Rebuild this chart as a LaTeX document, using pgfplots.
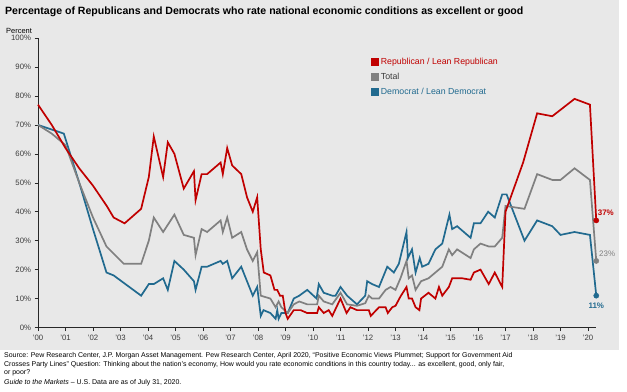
\documentclass[border=0pt]{standalone}
\usepackage{fontspec}
\setmainfont{Liberation Sans}
\usepackage{pgfplots}
\pgfplotsset{compat=1.18}
\usepackage{pgfplotstable}
\definecolor{bg}{RGB}{232,232,232}
\definecolor{rep}{RGB}{192,0,0}
\definecolor{tot}{RGB}{128,128,128}
\definecolor{dem}{RGB}{33,106,143}
\definecolor{axc}{RGB}{40,40,40}
\definecolor{txc}{RGB}{60,60,60}

\pgfplotstableread{
year val
2000.0 77
2000.5 70
2001.0 62
2001.5 55
2002.0 49
2002.5 42
2002.75 38
2003.15 36
2003.75 41
2004.03 52
2004.21 66
2004.55 52
2004.72 64
2004.96 60
2005.3 48
2005.67 54
2005.73 44
2005.95 53
2006.15 53
2006.64 57
2006.72 53
2006.88 62
2007.06 56
2007.39 53
2007.6 45
2007.81 40
2007.97 45
2008.1 27
2008.21 19
2008.45 18
2008.6 13
2008.7 13
2008.8 11
2008.9 11
2009.0 5
2009.08 3
2009.3 6
2009.55 6
2009.79 5
2010.15 5
2010.21 7
2010.39 5
2010.57 6
2010.7 4
2011.0 10
2011.22 5
2011.36 7
2011.6 6
2012.03 6
2012.1 4
2012.4 7
2012.64 7
2012.72 5
2012.88 7
2013.0 7.5
2013.18 10.7
2013.4 14
2013.48 10
2013.6 10
2013.73 7
2013.87 6
2013.93 10
2014.2 12
2014.45 10
2014.58 14
2014.7 11
2014.94 14
2015.06 17
2015.43 17
2015.73 16.5
2015.85 19
2016.09 20
2016.39 15
2016.61 19
2016.88 14
2017.0 40
2017.64 57
2018.15 74
2018.7 73
2019.51 79
2020.07 77
2020.3 37
}\rep

\pgfplotstableread{
year val
2000.0 70
2000.5 67
2001.0 63
2001.5 50
2002.0 38
2002.49 28
2003.12 22
2003.75 22
2004.03 30
2004.21 38
2004.55 33
2004.96 39
2005.3 32
2005.67 31
2005.73 25
2005.95 34
2006.15 33
2006.64 37
2006.72 33
2006.88 38
2007.06 31
2007.39 33
2007.6 27
2007.81 23
2007.97 26
2008.1 11
2008.45 10
2008.64 7
2008.75 9
2008.85 7
2009.08 5
2009.3 8
2009.5 9
2009.79 8
2010.15 8
2010.21 11
2010.39 9
2010.7 8
2011.0 12
2011.24 8
2011.6 7.5
2011.9 8.4
2012.03 11
2012.15 10
2012.4 10
2012.64 13
2012.82 14
2013.0 13
2013.18 17
2013.4 23
2013.48 17
2013.6 18
2013.73 13
2013.93 16
2014.2 17
2014.45 19
2014.7 21
2014.94 27
2015.06 25
2015.24 27
2015.73 24
2015.85 27
2016.09 29
2016.39 28
2016.61 28
2016.88 31
2017.0 42
2017.69 41
2018.15 53
2018.7 51
2019.0 51
2019.51 55
2020.07 51
2020.3 23
}\tot

\pgfplotstableread{
year val
2000.0 70
2000.94 67
2001.5 50
2002.0 34
2002.49 19
2002.75 18
2003.75 11
2004.03 15
2004.21 15
2004.55 17
2004.72 13
2004.96 23
2005.3 20
2005.67 16
2005.73 13
2005.95 21
2006.15 21
2006.64 23
2006.72 22
2006.88 23
2007.06 17
2007.39 21
2007.6 16
2007.81 11
2007.97 14
2008.1 4
2008.2 6
2008.45 5
2008.64 3
2008.7 6
2008.75 3
2008.85 5
2009.08 5
2009.3 10
2009.5 11
2009.79 13
2010.13 10
2010.21 15
2010.39 12
2010.7 11
2010.82 11
2011.0 14
2011.24 11
2011.36 10
2011.6 8
2011.9 11
2011.97 16
2012.15 15
2012.4 14
2012.7 21
2012.94 19
2013.12 22
2013.4 33
2013.45 24
2013.6 27
2013.73 19
2013.88 24
2013.97 21
2014.2 22
2014.45 27
2014.7 29
2014.96 39
2015.06 34
2015.24 35
2015.73 31
2015.85 36
2016.09 36
2016.37 40
2016.61 38
2016.88 46
2017.04 46
2017.69 30
2018.15 37
2018.7 35
2019.0 32
2019.51 33
2020.07 32
2020.3 11
}\dem

\pgfplotstableread{
year val
2020.3 37
}\repend
\pgfplotstableread{
year val
2020.3 23
}\totend
\pgfplotstableread{
year val
2020.3 11
}\demend

\begin{document}
\begin{tikzpicture}[x=1bp,y=1bp]
\useasboundingbox (0,0) rectangle (627,391);
\fill[bg] (0,41) rectangle (619,391);
\node[anchor=west,inner sep=0pt,font=\bfseries\fontsize{10.6}{12}\selectfont,text=black] at (5,379) {Percentage of Republicans and Democrats who rate national economic conditions as excellent or good};
\node[anchor=west,inner sep=0pt,font=\fontsize{7.5}{9}\selectfont,text=black] at (6,360) {Percent};
\begin{axis}[
  at={(38bp,63.5bp)}, anchor=south west,
  scale only axis, width=558.25bp, height=289.4bp,
  xmin=2000, xmax=2020.3, ymin=0, ymax=100,
  axis x line*=bottom, axis y line*=left,
  axis line style={axc, line width=0.9pt},
  tick style={axc, line width=0.6pt},
  tick align=outside, major tick length=3.5bp,
  xtick={2000,2001,...,2020},
  xticklabels={'00,'01,'02,'03,'04,'05,'06,'07,'08,'09,'10,'11,'12,'13,'14,'15,'16,'17,'18,'19,'20},
  ytick={0,10,...,100},
  yticklabel={\pgfmathprintnumber{\tick}\%},
  /pgf/number format/assume math mode=true,
  ticklabel style={font=\fontsize{7.8}{9}\selectfont, text=txc},
  xticklabel style={yshift=-1bp},
  clip=false,
  legend style={at={(rel axis cs:0.597,0.94)}, anchor=north west, draw=none, fill=none,
     font=\fontsize{8.8}{10}\selectfont, row sep=3.2bp, inner sep=0pt, cells={anchor=west}},
  legend cell align=left,
  legend image code/.code={\fill[#1] (0bp,-3.5bp) rectangle (7bp,3.5bp);},
]
\addplot[dem, line width=1.7bp, forget plot] table[x=year,y=val]{\dem};
\addplot[tot, line width=1.7bp, forget plot] table[x=year,y=val]{\tot};
\addplot[rep, line width=1.7bp, forget plot] table[x=year,y=val]{\rep};
\addplot[only marks, mark=*, mark size=2.6bp, rep, forget plot] table[x=year,y=val]{\repend};
\addplot[only marks, mark=*, mark size=2.6bp, tot, forget plot] table[x=year,y=val]{\totend};
\addplot[only marks, mark=*, mark size=2.6bp, dem, forget plot] table[x=year,y=val]{\demend};
\addlegendimage{rep, fill=rep}
\addlegendentry{\textcolor{rep}{Republican / Lean Republican}}
\addlegendimage{tot, fill=tot}
\addlegendentry{\textcolor{txc}{Total}}
\addlegendimage{dem, fill=dem}
\addlegendentry{\textcolor{dem}{Democrat / Lean Democrat}}
\node[anchor=west, inner sep=0pt, font=\bfseries\fontsize{8}{10}\selectfont, text=rep] at (axis cs:2020.35,39.5) {37\%};
\node[anchor=west, inner sep=0pt, font=\fontsize{8}{10}\selectfont, text=tot] at (axis cs:2020.4,25.5) {23\%};
\node[anchor=north, inner sep=0pt, font=\bfseries\fontsize{8}{10}\selectfont, text=dem] at (axis cs:2020.3,8.5) {11\%};
\end{axis}
\begin{scope}[font=\fontsize{7}{8}\selectfont]
\node[anchor=west,inner sep=0pt,text=black] at (4,35) {Source: Pew Research Center, J.P. Morgan Asset Management. Pew Research Center, April 2020, “Positive Economic Views Plummet; Support for Government Aid};
\node[anchor=west,inner sep=0pt,text=black] at (4,26.5) {Crosses Party Lines” Question: Thinking about the nation’s economy, How would you rate economic conditions in this country today... as excellent, good, only fair,};
\node[anchor=west,inner sep=0pt,text=black] at (4,18.5) {or poor?};
\node[anchor=west,inner sep=0pt,text=black] at (4,8) {\textit{Guide to the Markets} – U.S. Data are as of July 31, 2020.};
\end{scope}
\end{tikzpicture}
\end{document}
